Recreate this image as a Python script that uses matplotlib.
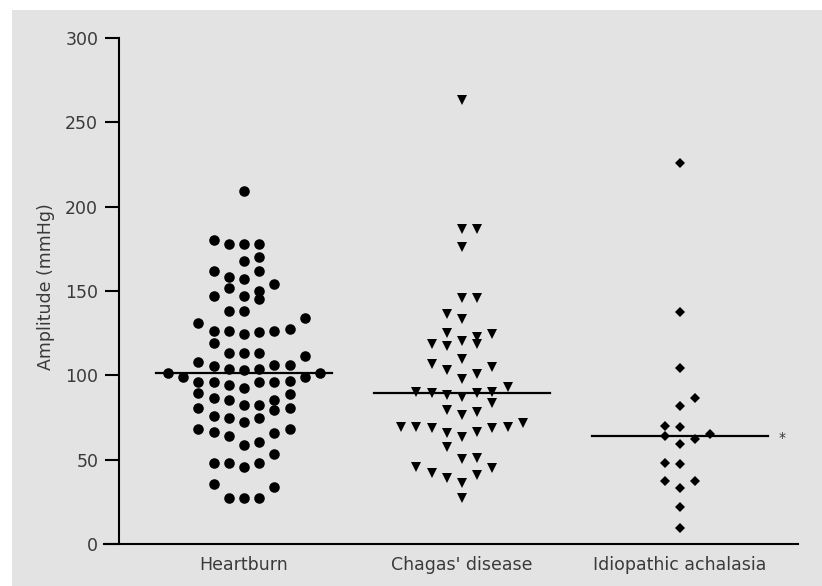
import matplotlib
matplotlib.use("Agg")
import matplotlib.pyplot as plt
from matplotlib.patches import Rectangle

# groups and tick labels
groups = ["Heartburn", "Chagas' disease", "Idiopathic achalasia"]
ticks = [0, 50, 100, 150, 200, 250, 300]

# amplitude values (mmHg), with the column slot each dot sits in
hb_vals = [209,
           180, 178, 178, 178,
           168, 170,
           162, 162,
           158.5, 157,
           154,
           152,
           147, 147, 150, 145,
           138, 138,
           131, 134,
           126.5, 126.5, 124.5, 125.5, 126.5, 127.3,
           119.4,
           113, 113, 113,
           111.4,
           108,
           105.5, 106, 106,
           103.5, 103, 103.5,
           101.5, 101.5, 98.8, 98.8,
           96, 96, 94.3, 92.3, 96, 96, 96.5,
           89.7, 88.9,
           86.3, 85.3, 85.5,
           82.4, 82.4,
           80.4, 80.4, 79.4,
           76, 74.5, 72.5, 75,
           68, 66.6, 64, 68, 65.6,
           58.7, 60.7,
           53.3,
           48, 48, 45.4, 48,
           35.6, 33.6,
           27, 27, 27]
hb_slot = [0,
           -2, -1, 0, 1,
           0, 1,
           -2, 1,
           -1, 0,
           2,
           -1,
           -2, 0, 1, 1,
           -1, 0,
           -3, 4,
           -2, -1, 0, 1, 2, 3,
           -2,
           -1, 0, 1,
           4,
           -3,
           -2, 2, 3,
           -1, 0, 1,
           -5, 5, -4, 4,
           -3, -2, -1, 0, 1, 2, 3,
           -3, 3,
           -2, -1, 2,
           0, 1,
           -3, 3, 2,
           -2, -1, 0, 1,
           -3, -2, -1, 3, 2,
           0, 1,
           2,
           -2, -1, 0, 1,
           -2, 2,
           -1, 0, 1]

ch_vals = [263,
           187, 187,
           176.3,
           146, 146,
           136.3,
           133.4,
           125, 123, 124.5,
           118.4, 117.5, 120.3, 118.4,
           106.7, 109.5, 104.7, 103, 100.8,
           97.6,
           90.3, 89.3, 88.3, 87.3, 89.3, 90.3, 92.9,
           83.8,
           79.4, 78.4, 76.5,
           69.5, 69.5, 68.6, 65.6, 63.6, 66.6, 68.6, 69.2, 71.5,
           57.7,
           50.2, 50.8,
           45.8, 42.3, 38.9, 36.3, 40.9, 45.2,
           27.1]
ch_slot = [0,
           0, 1,
           0,
           0, 1,
           -1,
           0,
           -1, 1, 2,
           -2, -1, 0, 1,
           -2, 0, 2, -1, 1,
           0,
           -3, -2, -1, 0, 1, 2, 3,
           2,
           -1, 1, 0,
           -4, -3, -2, -1, 0, 1, 2, 3, 4,
           -1,
           0, 1,
           -3, -2, -1, 0, 1, 2,
           0]

ia_vals = [225.6, 137.7, 104.5, 86.7, 82, 69.9, 69.1, 64, 65.2, 62,
           59.3, 48.2, 47.4, 37.5, 37.5, 33, 22.1, 9.3]
ia_slot = [0, 0, 0, 1, 0, -1, 0, -1, 2, 1,
           0, -1, 0, -1, 1, 0, 0, 0]

medians = [101.5, 89.7, 64]

step = 0.0697
half = 0.404

fig = plt.figure(figsize=(8.22, 5.86), dpi=100)
fig.patch.set_facecolor("white")
fig.patches.append(Rectangle((12 / 822, 0), 1, 1 - 10 / 586, transform=fig.transFigure,
                             facecolor="#e3e3e3", edgecolor="none", zorder=-10))

ax = fig.add_axes([104 / 822, 42 / 586, 694 / 822, 506 / 586])
ax.set_facecolor("none")

sets = [(hb_vals, hb_slot, "o", 7.6), (ch_vals, ch_slot, "v", 7.6), (ia_vals, ia_slot, "D", 5.2)]
for i, (vals, slots, mk, ms) in enumerate(sets):
    c = i + 1
    xs = [c + s * step for s in slots]
    ax.plot(xs, vals, linestyle="none", marker=mk, markersize=ms,
            color="black", markeredgewidth=0)
    ax.plot([c - half, c + half], [medians[i], medians[i]], color="black", lw=1.6)

ax.text(3.47, medians[2] - 1, "*", ha="center", va="center", fontsize=10, color="#333333")

ax.set_xlim(0.358, 3.541)
ax.set_ylim(0, 300)
ax.set_yticks(ticks)
ax.set_xticks([1, 2, 3])
ax.set_xticklabels(groups)

for side in ["top", "right"]:
    ax.spines[side].set_visible(False)
ax.spines["left"].set_position(("data", 0.427))
ax.spines["left"].set_linewidth(1.5)
ax.spines["bottom"].set_linewidth(1.5)

ax.tick_params(axis="y", length=10, width=1.5, pad=5, labelsize=12.5, labelcolor="#3a3a3a")
ax.tick_params(axis="x", length=0, pad=9, labelsize=12.5, labelcolor="#3a3a3a")

ax.set_ylabel("Amplitude (mmHg)", fontsize=12.5, color="#3a3a3a")
ax.yaxis.set_label_coords(-0.07, 0.508)

fig.savefig("out.png", dpi=100)
